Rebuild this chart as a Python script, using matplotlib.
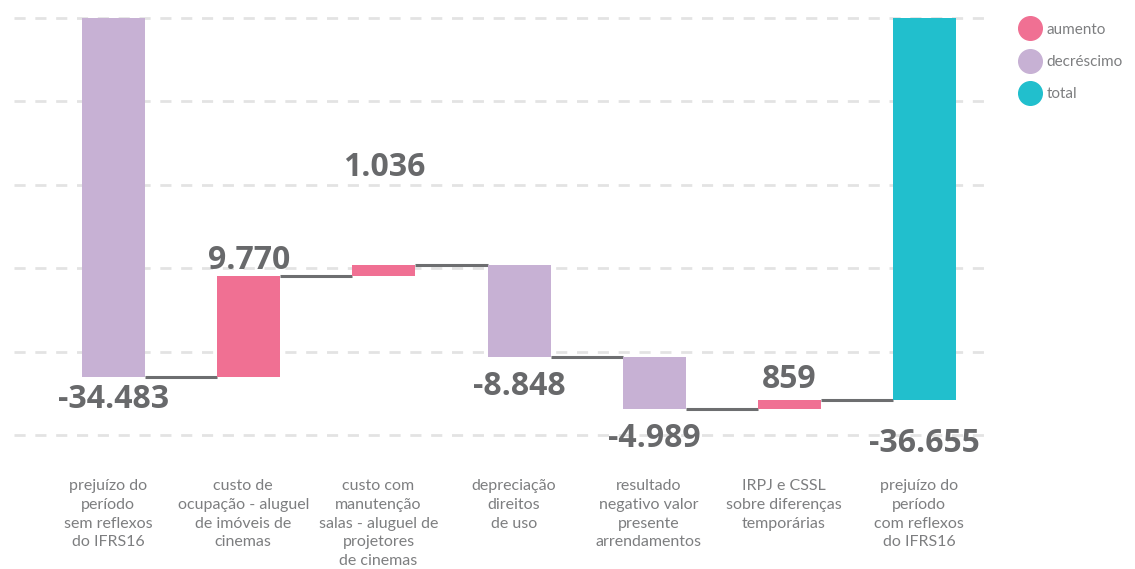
import matplotlib.pyplot as plt
from matplotlib.lines import Line2D

categories = ['prejuízo do\nperíodo\nsem reflexos\ndo IFRS16',
              'custo de\nocupação - aluguel\nde imóveis de\ncinemas',
              'custo com\nmanutenção\nsalas - aluguel de\nprojetores\nde cinemas',
              'depreciação\ndireitos\nde uso',
              'resultado\nnegativo valor\npresente\narrendamentos',
              'IRPJ e CSSL\nsobre diferenças\ntemporárias',
              'prejuízo do\nperíodo\ncom reflexos\ndo IFRS16']
values = [-34483, 9770, 1036, -8848, -4989, 859, -36655]
kinds = ['decrease', 'increase', 'increase', 'decrease', 'decrease', 'increase', 'total']
value_labels = ['-34.483', '9.770', '1.036', '-8.848', '-4.989', '859', '-36.655']

colors = {'increase': '#f07093', 'decrease': '#c7b1d4', 'total': '#21bfcd'}
text_grey = '#68696b'
font = 'Lato'

W, H = 1135, 569
fig = plt.figure(figsize=(W / 100, H / 100), dpi=100)
ax = fig.add_axes([14 / W, (H - 435) / H, (990 - 14) / W, (435 - 18) / H])
ax.set_xlim(-0.736, 6.484)
ax.set_ylim(-40000, 0)

for g in range(0, -40001, -8000):
    ax.axhline(g, color='#e3e3e3', lw=2, ls=(0, (4, 3.5)), zorder=0, clip_on=False)

width = 0.466
running = 0
ends = []
for i, (v, k) in enumerate(zip(values, kinds)):
    if k == 'total' or i == 0:
        bottom = 0
        end = v
    else:
        bottom = running
        end = running + v
    ax.bar(i, v, bottom=bottom, width=width, color=colors[k], zorder=3)
    running = end
    ends.append(end)

# connectors
for i in range(len(values) - 1):
    ax.plot([i + width / 2, i + 1 - width / 2], [ends[i], ends[i]],
            color='#6d6e70', lw=2.2, zorder=2, solid_capstyle='butt')

# value labels, offset in points from the bar end
label_offsets = [-16, 11, 70, -21, -21, 15, -31]
for i, (lab, off) in enumerate(zip(value_labels, label_offsets)):
    ax.annotate(lab, (i, ends[i]), xytext=(0, off), textcoords='offset points',
                ha='center', va='center', fontsize=23, fontweight='bold',
                color=text_grey, family='Open Sans', zorder=5)

for i, c in enumerate(categories):
    ax.text(i - 0.04, -44250, c, ha='center', va='top',
            fontsize=11.5, color='#7d7e80', family=font, linespacing=1.42)

ax.axis('off')

handles = [Line2D([], [], marker='o', ls='', markersize=17, color=colors[k])
           for k in ['increase', 'decrease', 'total']]
leg = fig.legend(handles, ['aumento', 'decréscimo', 'total'], loc='upper left',
                 bbox_to_anchor=(1007 / W, 1 - 9 / H), frameon=False,
                 prop={'family': font, 'size': 11}, labelspacing=1.2,
                 handletextpad=0.5, handlelength=1.2)
for t in leg.get_texts():
    t.set_color('#7d7e80')

fig.savefig('out.png', dpi=100)
